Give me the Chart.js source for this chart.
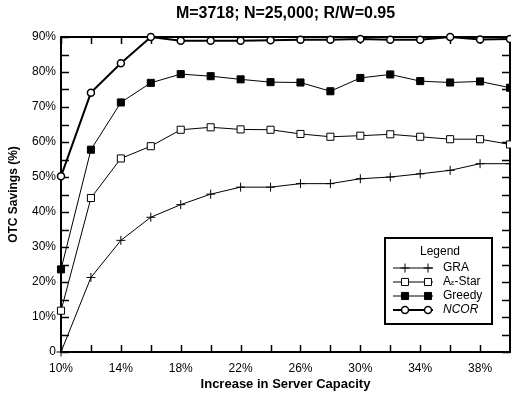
<!DOCTYPE html>
<html>
<head>
<meta charset="utf-8">
<script src="https://cdn.jsdelivr.net/npm/chart.js@4.4.0/dist/chart.umd.min.js"></script>
<style>
  html, body { margin: 0; padding: 0; background: #fff; }
</style>
</head>
<body>
<canvas id="chOtc" width="511" height="400"></canvas>
<script>
// x values: increase in server capacity (%)
var capacity = [10, 12, 14, 16, 18, 20, 22, 24, 26, 28, 30, 32, 34, 36, 38, 40];

// OTC savings (%) per algorithm
var gra    = [0, 21.3, 31.9, 38.5, 42.1, 45.1, 47.1, 47.1, 48.1, 48.1, 49.5, 50.0, 50.9, 51.9, 53.8, 53.8];
var aeStar = [11.8, 44.0, 55.3, 58.8, 63.5, 64.2, 63.6, 63.5, 62.3, 61.5, 61.8, 62.2, 61.5, 60.8, 60.8, 59.3];
var greedy = [23.6, 57.8, 71.3, 76.9, 79.4, 78.8, 77.9, 77.1, 77.0, 74.5, 78.3, 79.3, 77.4, 77.0, 77.3, 75.5];
var ncor   = [50.2, 74.1, 82.5, 90.0, 88.9, 88.9, 88.9, 89.1, 89.2, 89.2, 89.4, 89.2, 89.2, 90.0, 89.3, 89.4];

var seriesNames = ['GRA', 'A\u03b5-Star', 'Greedy', 'NCOR'];
var xLabelTicks = [10, 14, 18, 22, 26, 30, 34, 38];

var font = "'Liberation Sans', Arial, sans-serif";

function pts(ys) {
  return ys.map(function (y, i) { return {x: capacity[i], y: y}; });
}

// draw one marker the way the dataset does
function marker(ctx, ds, x, y) {
  var r = ds.pointRadius;
  ctx.save();
  ctx.lineWidth = ds.pointBorderWidth;
  ctx.strokeStyle = ds.pointBorderColor;
  ctx.fillStyle = ds.pointBackgroundColor;
  ctx.beginPath();
  if (ds.pointStyle === 'cross') {
    ctx.moveTo(x - r, y); ctx.lineTo(x + r, y);
    ctx.moveTo(x, y - r); ctx.lineTo(x, y + r);
    ctx.stroke();
  } else if (ds.pointStyle === 'rect') {
    var s = Math.SQRT1_2 * r;
    ctx.rect(x - s, y - s, 2 * s, 2 * s);
    ctx.fill(); ctx.stroke();
  } else {
    ctx.arc(x, y, r, 0, Math.PI * 2);
    ctx.fill(); ctx.stroke();
  }
  ctx.restore();
}

// frame with inward ticks on all four sides, plus the boxed legend
var framePlugin = {
  id: 'frame',
  beforeDatasetsDraw: function (chart) {
    var ctx = chart.ctx, a = chart.chartArea;
    var xs = chart.scales.x, ys = chart.scales.y;
    ctx.save();
    ctx.strokeStyle = '#000';
    ctx.lineWidth = 2;
    ctx.strokeRect(a.left, a.top, a.right - a.left, a.bottom - a.top);
    ctx.lineWidth = 1.5;
    ctx.beginPath();
    xs.ticks.forEach(function (t) {
      var px = Math.round(xs.getPixelForValue(t.value)) + 0.5;
      ctx.moveTo(px, a.bottom); ctx.lineTo(px, a.bottom - 7);
      ctx.moveTo(px, a.top); ctx.lineTo(px, a.top + 7);
    });
    ys.ticks.forEach(function (t) {
      var py = Math.round(ys.getPixelForValue(t.value)) + 0.5;
      ctx.moveTo(a.left, py); ctx.lineTo(a.left + 8, py);
      ctx.moveTo(a.right, py); ctx.lineTo(a.right - 8, py);
    });
    ctx.stroke();
    ctx.restore();
  },
  afterDraw: function (chart) {
    var ctx = chart.ctx, a = chart.chartArea;
    ctx.save();
    // legend box
    var bx = a.right - 125, by = a.top + 201, bw = 107, bh = 86;
    ctx.fillStyle = '#fff';
    ctx.fillRect(bx, by, bw, bh);
    ctx.strokeStyle = '#000';
    ctx.lineWidth = 2;
    ctx.strokeRect(bx, by, bw, bh);
    ctx.fillStyle = '#000';
    ctx.font = '12px ' + font;
    ctx.textAlign = 'center';
    ctx.textBaseline = 'middle';
    ctx.fillText('Legend', bx + 55, by + 14);
    ctx.textAlign = 'left';
    var list = chart.data.datasets.slice().reverse();
    list.forEach(function (ds, i) {
      var ly = by + 30 + i * 14;
      ctx.save();
      ctx.lineWidth = ds.borderWidth;
      ctx.strokeStyle = ds.borderColor;
      ctx.beginPath();
      ctx.moveTo(bx + 8, ly); ctx.lineTo(bx + 48, ly);
      ctx.stroke();
      ctx.restore();
      marker(ctx, ds, bx + 20, ly);
      marker(ctx, ds, bx + 43, ly);
      ctx.fillStyle = '#000';
      var tx = bx + 58;
      if (ds.label === 'NCOR') {
        ctx.font = 'italic 12px ' + font;
        ctx.fillText(ds.label, tx, ly);
      } else if (ds.label.indexOf('\u03b5') > 0) {
        var parts = ds.label.split('\u03b5');
        ctx.font = '12px ' + font;
        ctx.fillText(parts[0], tx, ly);
        tx += ctx.measureText(parts[0]).width;
        ctx.font = '8px ' + font;
        ctx.fillText('\u03b5', tx, ly + 1);
        tx += ctx.measureText('\u03b5').width;
        ctx.font = '12px ' + font;
        ctx.fillText(parts[1], tx, ly);
      } else {
        ctx.font = '12px ' + font;
        ctx.fillText(ds.label, tx, ly);
      }
    });
    ctx.restore();
  }
};

var chOtc = document.getElementById('chOtc');
new Chart(chOtc, {
  type: 'line',
  data: {
    datasets: [
      {label: seriesNames[3], data: pts(ncor), borderColor: '#000', borderWidth: 2,
       pointStyle: 'circle', pointRadius: 3.5, pointBorderWidth: 1.5,
       pointBorderColor: '#000', pointBackgroundColor: '#fff', clip: false},
      {label: seriesNames[2], data: pts(greedy), borderColor: '#000', borderWidth: 1,
       pointStyle: 'rect', pointRadius: 5, pointBorderWidth: 1,
       pointBorderColor: '#000', pointBackgroundColor: '#000', clip: false},
      {label: seriesNames[1], data: pts(aeStar), borderColor: '#000', borderWidth: 1,
       pointStyle: 'rect', pointRadius: 5, pointBorderWidth: 1,
       pointBorderColor: '#000', pointBackgroundColor: '#fff', clip: false},
      {label: seriesNames[0], data: pts(gra), borderColor: '#000', borderWidth: 1,
       pointStyle: 'cross', pointRadius: 4.5, pointBorderWidth: 1,
       pointBorderColor: '#000', pointBackgroundColor: '#000', clip: false}
    ]
  },
  options: {
    responsive: false,
    animation: false,
    layout: {autoPadding: false, padding: {left: 0, right: 1, top: 0, bottom: 0}},
    plugins: {
      legend: {display: false},
      tooltip: {enabled: false},
      title: {
        display: true,
        text: 'M=3718; N=25,000; R/W=0.95',
        fullSize: false,
        color: '#000',
        font: {family: font, size: 16, weight: 'bold'},
        padding: {top: 4, bottom: 13.8}
      }
    },
    scales: {
      x: {
        type: 'linear', min: 10, max: 40,
        grid: {display: false, drawTicks: false},
        border: {display: false},
        ticks: {
          stepSize: 2, padding: 9, color: '#000', maxRotation: 0, autoSkip: false,
          font: {family: font, size: 12},
          callback: function (v) { return xLabelTicks.indexOf(v) >= 0 ? v + '%' : ''; }
        },
        title: {display: true, text: 'Increase in Server Capacity', color: '#000',
                font: {family: font, size: 13, weight: 'bold'}, padding: {top: 0, bottom: 8}},
        afterFit: function (s) { s.height = 48; s.paddingRight = 0; }
      },
      y: {
        min: 0, max: 90,
        grid: {display: false, drawTicks: false},
        border: {display: false},
        ticks: {
          stepSize: 5, padding: 5, color: '#000', autoSkip: false,
          font: {family: font, size: 12},
          callback: function (v) { return v % 10 ? '' : (v === 0 ? '0' : v + '%'); }
        },
        title: {display: true, text: 'OTC Savings (%)', color: '#000',
                font: {family: font, size: 12, weight: 'bold'}, padding: {top: 6, bottom: 0}},
        afterFit: function (s) { s.width = 61; }
      }
    }
  },
  plugins: [framePlugin]
});
</script>
</body>
</html>
